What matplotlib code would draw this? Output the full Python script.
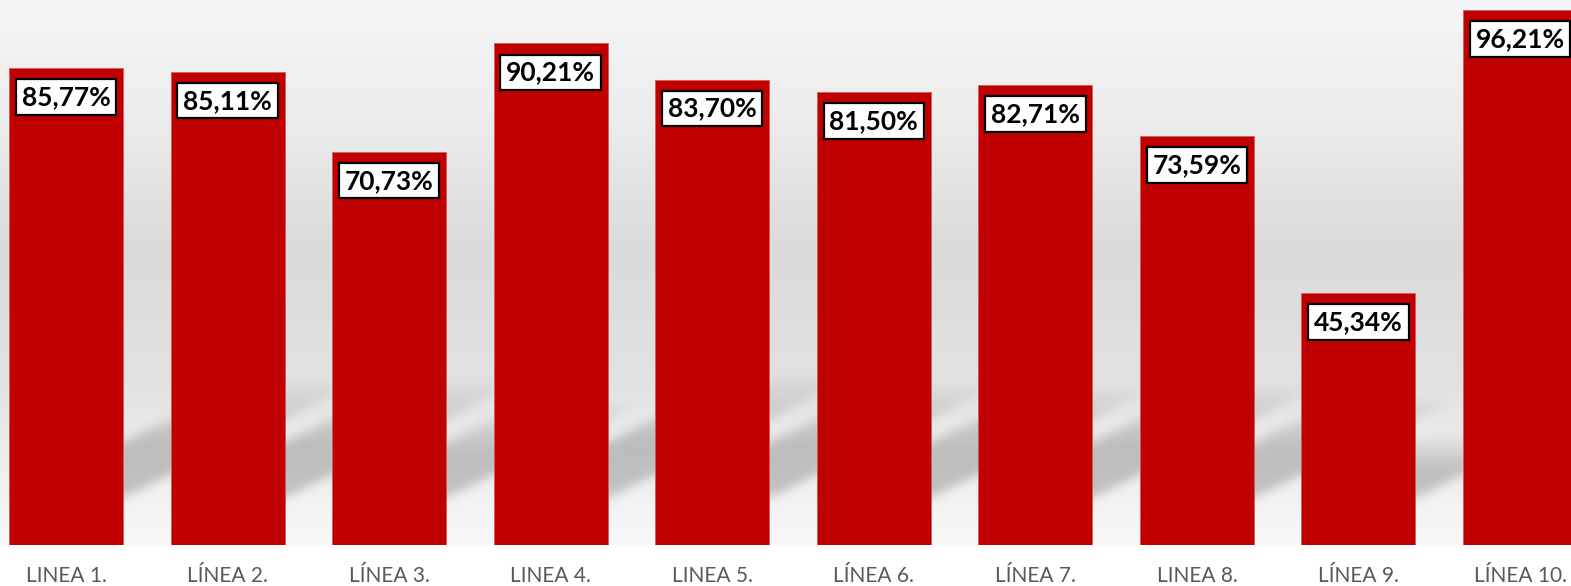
import numpy as np
import matplotlib
matplotlib.use('Agg')
import matplotlib.pyplot as plt

# datos del gráfico
lineas = ['LINEA 1.', 'LÍNEA 2.', 'LÍNEA 3.', 'LINEA 4.', 'LINEA 5.',
          'LÍNEA 6.', 'LÍNEA 7.', 'LINEA 8.', 'LÍNEA 9.', 'LÍNEA 10.']
porcentajes = [85.77, 85.11, 70.73, 90.21, 83.70, 81.50, 82.71, 73.59, 45.34, 96.21]

# estilo
color_barra = '#C00000'
ancho_barra = 0.706
W, H = 1571, 586
dpi = 100

fig = plt.figure(figsize=(W / dpi, H / dpi), dpi=dpi, facecolor='white')
pos_ejes = [0.0, 41 / H, 1.0, 545 / H]

# fondo (degradado + sombras), en una capa aparte
ax_fondo = fig.add_axes(pos_ejes, zorder=0)
ax = fig.add_axes(pos_ejes, zorder=1)
ax.patch.set_alpha(0)

x = np.arange(len(lineas))
ax.set_xlim(-0.4085, 9.3155)
ax.set_ylim(0, 98.0)

# degradado vertical del área de trazado
Ha, Wa = 545, W
yy = np.arange(Ha)
gris = np.interp(yy, [0, 120, 250, 380, 450, 545],
                 [0.965, 0.925, 0.855, 0.885, 0.925, 0.975])
fondo = np.repeat(gris[:, None], Wa, axis=1)

# sombras en perspectiva de cada barra (calculadas con la escala del eje)
fig.canvas.draw()
trans = ax.transData
mascara = np.zeros((Ha, Wa))
XX, YY = np.meshgrid(np.arange(Wa) + 0.5, np.arange(Ha) + 0.5)
for xi, v in zip(x, porcentajes):
    (px0, py0), (px1, py1) = trans.transform([(xi - ancho_barra / 2, 0), (xi + ancho_barra / 2, v)])
    base = H - py0 - 41 - 6        # a coordenadas de imagen (desde arriba)
    alto = py1 - py0
    dy = 0.24 * alto
    dx = 2.05 * dy
    corr = XX - (base - YY) * dx / dy
    dentro = (YY <= base) & (YY >= base - dy) & (corr >= px0) & (corr <= px1)
    frac = np.clip((base - YY) / dy, 0, 1)
    intens = dentro * (1 - 0.85 * np.clip((frac - 0.45) / 0.55, 0, 1))
    mascara = np.maximum(mascara, intens)

# desenfoque gaussiano simple
sig = 5
k = np.arange(-3 * sig, 3 * sig + 1)
nucleo = np.exp(-k ** 2 / (2 * sig ** 2))
nucleo /= nucleo.sum()
mascara = np.apply_along_axis(lambda r: np.convolve(r, nucleo, mode='same'), 1, mascara)
mascara = np.apply_along_axis(lambda c: np.convolve(c, nucleo, mode='same'), 0, mascara)

fondo = fondo * (1 - 0.2 * mascara)
img = np.dstack([fondo, fondo, fondo])
ax_fondo.imshow(img, aspect='auto', extent=[0, 1, 0, 1], interpolation='bilinear')
ax_fondo.set_axis_off()

# barras
ax.bar(x, porcentajes, width=ancho_barra, color=color_barra,
       edgecolor='#D65A5A', linewidth=0.6, zorder=2)

# etiquetas de datos
for xi, v in zip(x, porcentajes):
    texto = f'{v:.2f}%'.replace('.', ',')
    ax.annotate(texto, xy=(xi, v), xytext=(0, -29), textcoords='offset pixels',
                ha='center', va='center', fontsize=19, fontweight='bold',
                family='Lato', color='black', zorder=3,
                bbox=dict(boxstyle='square,pad=0.22', fc='white', ec='black', lw=1.6))

ax.set_xticks(x)
ax.set_xticklabels(lineas, fontsize=15, color='#595959', family='Lato')
ax.tick_params(axis='x', length=0, pad=15)
ax.set_yticks([])
for s in ax.spines.values():
    s.set_visible(False)

fig.savefig('out.png', dpi=dpi, facecolor='white')
